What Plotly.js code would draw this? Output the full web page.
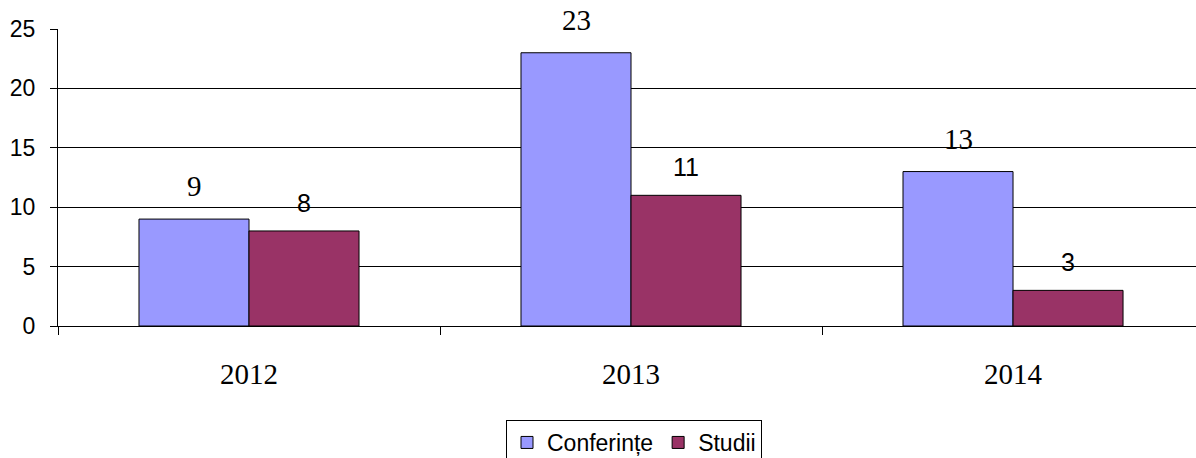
<!DOCTYPE html>
<html>
<head>
<meta charset="utf-8">
<script src="https://cdn.plot.ly/plotly-3.0.1.min.js"></script>
<style>html,body{margin:0;padding:0;overflow:hidden;background:#fff;}</style>
</head>
<body>
<div id="chart" style="width:1196px;height:458px;"></div>
<script>
const years = ['2012', '2013', '2014'];
const conferinte = [9, 23, 13];
const studii = [8, 11, 3];
const seriesNames = ['Conferințe', 'Studii'];

const traces = [
  {type: 'bar', name: seriesNames[0], x: years, y: conferinte,
   marker: {color: '#9999FF', line: {color: '#000', width: 1}}},
  {type: 'bar', name: seriesNames[1], x: years, y: studii,
   marker: {color: '#993366', line: {color: '#000', width: 1}}}
];

const annotations = [];
years.forEach((yr, i) => {
  annotations.push({x: i, y: conferinte[i], xref: 'x', yref: 'y', text: String(conferinte[i]),
    showarrow: false, xshift: -55, yshift: 33,
    font: {family: 'Liberation Serif, Times New Roman, serif', size: 29, color: '#000'}});
  annotations.push({x: i, y: studii[i], xref: 'x', yref: 'y', text: String(studii[i]),
    showarrow: false, xshift: 55, yshift: 28,
    font: {family: 'Liberation Sans, Arial, sans-serif', size: 25, color: '#000'}});
});

const layout = {
  width: 1196, height: 458,
  margin: {l: 58, r: 0, t: 29, b: 132, autoexpand: false},
  paper_bgcolor: '#fff', plot_bgcolor: '#fff',
  barmode: 'group', bargap: 0.424, bargroupgap: 0,
  showlegend: true,
  legend: {orientation: 'h', xref: 'container', yref: 'container',
    x: 506 / 1196, xanchor: 'left', y: (458 - 420) / 458, yanchor: 'top',
    bordercolor: '#000', borderwidth: 1,
    font: {family: 'Liberation Sans, Arial, sans-serif', size: 23, color: '#000'},
    traceorder: 'normal'},
  xaxis: {type: 'category', range: [-0.5, 2.479], showline: true, linecolor: '#000', linewidth: 1,
    ticks: 'outside', tickson: 'boundaries', ticklen: 8, tickcolor: '#000',
    showgrid: false, ticklabelstandoff: 22, tickangle: 0, automargin: false,
    tickfont: {family: 'Liberation Serif, Times New Roman, serif', size: 29, color: '#000'}},
  yaxis: {range: [0, 25], tickvals: [0, 5, 10, 15, 20, 25], showline: true, linecolor: '#000', linewidth: 1,
    ticks: 'outside', ticklen: 7, tickcolor: '#000', automargin: false,
    showgrid: true, gridcolor: '#000', gridwidth: 1, zeroline: false, ticklabelstandoff: 10,
    tickfont: {family: 'Liberation Sans, Arial, sans-serif', size: 23, color: '#000'}},
  annotations: annotations
};

Plotly.newPlot('chart', traces, layout, {displayModeBar: false, staticPlot: true});
</script>
</body>
</html>
